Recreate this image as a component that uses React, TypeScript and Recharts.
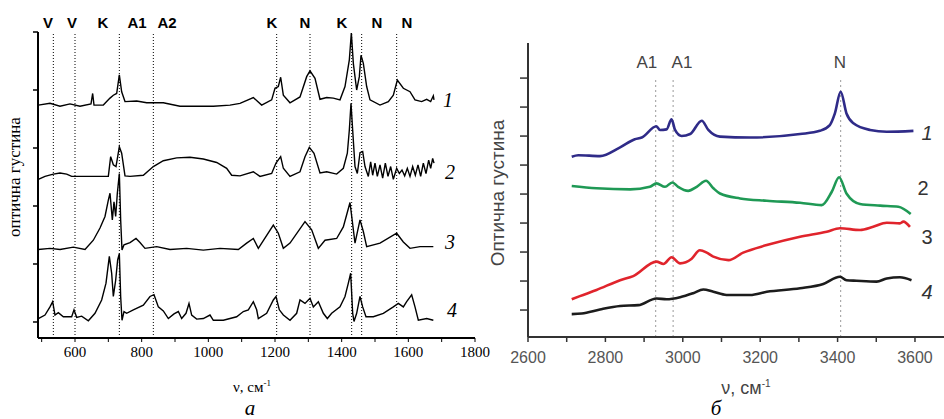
import React from 'react'
import { LineChart, Line, XAxis, YAxis, ReferenceLine, ReferenceDot } from 'recharts'

// panel а: wavenumber (cm-1) and optical density, spectra 1-4 stacked with offsets
const nuA1 = [490, 525, 555, 585, 615, 648, 653, 657, 685, 705, 715, 725, 733, 740, 750, 785, 815, 865, 915, 965, 1015, 1065, 1095, 1135, 1160, 1190, 1200, 1210, 1217, 1225, 1245, 1275, 1295, 1305, 1320, 1335, 1355, 1375, 1395, 1410, 1423, 1429, 1435, 1445, 1453, 1458, 1465, 1475, 1485, 1515, 1540, 1555, 1567, 1585, 1605, 1620, 1640, 1655, 1667, 1675, 1677]
const odA1 = [3.74, 3.77, 3.72, 3.76, 3.72, 3.76, 3.94, 3.74, 3.74, 3.86, 3.91, 3.94, 4.26, 3.97, 3.8, 3.81, 3.78, 3.78, 3.72, 3.72, 3.72, 3.74, 3.77, 3.87, 3.74, 3.83, 4.03, 4.06, 4.22, 3.91, 3.78, 3.88, 4.23, 4.33, 4.2, 3.84, 3.87, 3.86, 3.83, 4.06, 4.52, 4.98, 4.46, 4.0, 4.23, 4.6, 4.46, 4.06, 3.83, 3.74, 3.8, 3.91, 4.17, 4.03, 3.97, 3.83, 3.8, 3.84, 3.8, 3.9, 3.83]

const nuA2 = [490, 510, 535, 555, 575, 590, 625, 700, 707, 715, 723, 733, 740, 750, 765, 805, 835, 865, 905, 945, 985, 1025, 1055, 1070, 1095, 1135, 1155, 1190, 1203, 1217, 1225, 1245, 1275, 1290, 1303, 1317, 1335, 1355, 1385, 1405, 1417, 1423, 1428, 1433, 1440, 1447, 1455, 1463, 1470, 1480, 1487, 1493, 1500, 1507, 1515, 1523, 1531, 1539, 1547, 1555, 1565, 1573, 1581, 1589, 1597, 1605, 1613, 1621, 1629, 1637, 1645, 1653, 1661, 1667, 1673, 1677]
const odA2 = [2.46, 2.51, 2.55, 2.57, 2.55, 2.51, 2.51, 2.51, 2.85, 2.71, 2.68, 3.02, 2.91, 2.52, 2.51, 2.53, 2.68, 2.78, 2.83, 2.84, 2.81, 2.75, 2.65, 2.53, 2.52, 2.59, 2.51, 2.56, 2.74, 2.85, 2.65, 2.51, 2.59, 2.85, 3.01, 2.91, 2.57, 2.59, 2.55, 2.65, 2.91, 3.31, 3.77, 3.31, 2.68, 2.56, 2.92, 2.94, 2.68, 2.51, 2.76, 2.53, 2.74, 2.51, 2.71, 2.48, 2.74, 2.51, 2.68, 2.46, 2.65, 2.56, 2.62, 2.52, 2.65, 2.51, 2.68, 2.53, 2.71, 2.51, 2.74, 2.56, 2.79, 2.65, 2.82, 2.74]

const nuA3 = [490, 525, 555, 595, 630, 655, 675, 690, 700, 705, 712, 717, 722, 727, 733, 737, 741, 747, 765, 783, 795, 810, 845, 885, 935, 985, 1035, 1090, 1115, 1135, 1150, 1195, 1210, 1225, 1245, 1290, 1310, 1330, 1350, 1385, 1405, 1425, 1440, 1455, 1465, 1475, 1515, 1565, 1585, 1605, 1635, 1675]
const odA3 = [1.25, 1.27, 1.25, 1.29, 1.25, 1.41, 1.62, 1.82, 2.1, 2.22, 1.76, 2.07, 1.82, 2.22, 2.56, 1.76, 1.24, 1.33, 1.37, 1.44, 1.37, 1.27, 1.3, 1.25, 1.27, 1.24, 1.27, 1.25, 1.36, 1.44, 1.27, 1.67, 1.53, 1.27, 1.36, 1.73, 1.59, 1.27, 1.41, 1.44, 1.64, 2.06, 1.36, 1.76, 1.56, 1.3, 1.36, 1.53, 1.38, 1.27, 1.3, 1.3]

const nuA4 = [490, 510, 525, 533, 540, 550, 565, 590, 597, 605, 620, 640, 660, 680, 693, 703, 710, 715, 722, 728, 733, 737, 741, 747, 755, 775, 805, 825, 837, 850, 865, 880, 897, 910, 920, 933, 942, 950, 965, 985, 1005, 1015, 1045, 1085, 1105, 1120, 1135, 1145, 1150, 1175, 1195, 1203, 1213, 1225, 1245, 1265, 1275, 1290, 1305, 1315, 1330, 1345, 1357, 1370, 1395, 1410, 1420, 1427, 1433, 1437, 1445, 1455, 1463, 1473, 1495, 1525, 1555, 1570, 1585, 1595, 1610, 1620, 1630, 1655, 1675]
const odA4 = [0.06, 0.12, 0.26, 0.35, 0.12, 0.16, 0.09, 0.09, 0.21, 0.08, 0.1, 0.02, 0.15, 0.38, 0.67, 1.13, 0.84, 0.44, 0.72, 1.07, 1.18, 0.44, 0.03, 0.18, 0.15, 0.21, 0.29, 0.44, 0.47, 0.26, 0.19, 0.06, 0.14, 0.18, 0.06, 0.15, 0.32, 0.12, 0.05, 0.06, 0.12, 0.03, 0.03, 0.09, 0.18, 0.21, 0.35, 0.21, 0.06, 0.15, 0.38, 0.44, 0.21, 0.12, 0.03, 0.15, 0.38, 0.32, 0.41, 0.26, 0.35, 0.15, 0.06, 0.15, 0.26, 0.44, 0.67, 0.84, 0.15, 0.01, 0.15, 0.44, 0.26, 0.09, 0.09, 0.15, 0.26, 0.32, 0.26, 0.35, 0.47, 0.26, 0.03, 0.06, 0.03]

const bandLinesA = [535, 600, 733, 835, 1205, 1305, 1430, 1460, 1565]
const bandNamesA = ['V', 'V', 'K', 'A1', 'A2', 'K', 'N', 'K', 'N', 'N']
const bandNamePosA = [519, 591, 684, 786, 876, 1191, 1290, 1401, 1506, 1596]
const ticksA = [500, 600, 700, 800, 900, 1000, 1100, 1200, 1300, 1400, 1500, 1600, 1700, 1800]

// panel б
const nuB1 = [2713, 2730, 2786, 2838, 2876, 2894, 2932, 2941, 2958, 2971, 2980, 2997, 3019, 3049, 3066, 3096, 3174, 3303, 3354, 3380, 3393, 3408, 3423, 3441, 3484, 3527, 3596]
const odB1 = [6.29, 6.34, 6.31, 6.61, 6.89, 6.95, 7.34, 7.21, 7.23, 7.58, 7.21, 7.0, 7.07, 7.53, 7.21, 6.98, 6.95, 7.07, 7.18, 7.38, 7.78, 8.53, 7.78, 7.44, 7.21, 7.15, 7.18]
const nuB2 = [2713, 2777, 2864, 2915, 2932, 2954, 2973, 2988, 3014, 3036, 3060, 3079, 3096, 3148, 3217, 3303, 3359, 3385, 3404, 3423, 3458, 3510, 3557, 3589]
const odB2 = [5.28, 5.2, 5.16, 5.25, 5.37, 5.25, 5.4, 5.25, 5.11, 5.25, 5.46, 5.2, 5.02, 4.85, 4.77, 4.7, 4.62, 5.08, 5.58, 5.02, 4.66, 4.6, 4.56, 4.31]
const nuB3 = [2713, 2734, 2777, 2838, 2872, 2932, 2950, 2971, 2993, 3023, 3044, 3062, 3079, 3118, 3156, 3217, 3303, 3372, 3406, 3458, 3492, 3527, 3561, 3570, 3587]
const odB3 = [1.37, 1.48, 1.69, 2.03, 2.17, 2.67, 2.59, 2.82, 2.61, 2.77, 3.06, 2.98, 2.84, 2.72, 2.98, 3.24, 3.53, 3.7, 3.82, 3.76, 3.87, 4.01, 3.99, 4.05, 3.87]
const nuB4 = [2713, 2739, 2786, 2838, 2885, 2932, 2958, 2993, 3027, 3053, 3079, 3113, 3174, 3217, 3303, 3363, 3406, 3423, 3449, 3501, 3527, 3561, 3591]
const odB4 = [0.86, 0.88, 1.02, 1.14, 1.17, 1.4, 1.37, 1.44, 1.58, 1.71, 1.63, 1.52, 1.52, 1.63, 1.75, 1.9, 2.15, 2.03, 2.01, 1.98, 2.09, 2.13, 2.03]

const bandLinesB = [2930, 2975, 3408]
const bandNamesB = ['A1', 'A1', 'N']
const bandNamePosB = [2907, 2998, 3406]
const ticksB = [2600, 2700, 2800, 2900, 3000, 3100, 3200, 3300, 3400, 3500, 3600]
const coloursB = ['#2f2b88', '#1f9955', '#e0242c', '#1c1c1c']

const pts = (xs: number[], ys: number[]) => xs.map((x, i) => ({ x, y: ys[i] }))
const blank = () => ''

const serif = '"Liberation Serif", "Times New Roman", serif'
const sans = '"Liberation Sans", Arial, sans-serif'

const abs = (extra: React.CSSProperties): React.CSSProperties => ({ position: 'absolute', whiteSpace: 'nowrap', lineHeight: 1, ...extra })
const supStyle = (size: number): React.CSSProperties => ({ fontSize: size, lineHeight: 0, verticalAlign: 'super' })

export default function App() {
  const seriesA = [pts(nuA1, odA1), pts(nuA2, odA2), pts(nuA3, odA3), pts(nuA4, odA4)]
  const seriesB = [pts(nuB1, odB1), pts(nuB2, odB2), pts(nuB3, odB3), pts(nuB4, odB4)]
  const labA = [
    { n: '1', x: 1719, y: 3.83 },
    { n: '2', x: 1725, y: 2.59 },
    { n: '3', x: 1725, y: 1.38 },
    { n: '4', x: 1731, y: 0.21 },
  ]
  const labB = [
    { n: '1', x: 3631, y: 7.1, it: true },
    { n: '2', x: 3621, y: 5.21, it: false },
    { n: '3', x: 3631, y: 3.52, it: false },
    { n: '4', x: 3631, y: 1.62, it: true },
  ]

  return (
    <div style={{ position: 'absolute', left: 0, top: 0, width: 944, height: 419, background: '#fff', overflow: 'hidden' }}>
      <div style={{ position: 'absolute', left: 0, top: 0 }}>
        <LineChart width={505} height={419} margin={{ top: 32, right: 30, bottom: 51, left: 0 }}>
          <XAxis
            dataKey="x"
            type="number"
            domain={[489, 1800]}
            ticks={ticksA}
            allowDataOverflow
            height={30}
            tickSize={4}
            tickMargin={4}
            interval={0}
            tickFormatter={(v: number) => (v % 200 === 0 ? String(v) : '')}
            tick={{ fontFamily: serif, fontSize: 15, fill: '#000' }}
            axisLine={{ stroke: '#000', strokeWidth: 2 }}
            tickLine={{ stroke: '#000' }}
          />
          <YAxis
            type="number"
            domain={[-0.276, 5]}
            ticks={[0, 1, 2, 3, 4, 5]}
            allowDataOverflow
            width={38}
            tickSize={5}
            tickFormatter={blank}
            axisLine={{ stroke: '#000', strokeWidth: 2 }}
            tickLine={{ stroke: '#000', strokeWidth: 1.5 }}
          />
          {bandLinesA.map((b) => (
            <ReferenceLine key={'l' + b} x={b} stroke="#000" strokeWidth={1} strokeDasharray="1 2" />
          ))}
          {bandNamesA.map((n, i) => (
            <ReferenceLine
              key={'n' + i}
              x={bandNamePosA[i]}
              stroke="none"
              label={{ value: n, position: 'top', offset: 4, fill: '#000', fontSize: 15, fontWeight: 'bold', fontFamily: sans }}
            />
          ))}
          {seriesA.map((d, i) => (
            <Line key={i} data={d} dataKey="y" type="linear" stroke="#000" strokeWidth={1.4} dot={false} isAnimationActive={false} />
          ))}
          {labA.map((l) => (
            <ReferenceDot
              key={'d' + l.n}
              x={l.x}
              y={l.y}
              r={0}
              fill="none"
              stroke="none"
              ifOverflow="visible"
              label={{ value: l.n, position: 'center', fill: '#000', fontSize: 20, fontStyle: 'italic', fontFamily: serif }}
            />
          ))}
        </LineChart>
      </div>

      <div style={{ position: 'absolute', left: 480, top: 0 }}>
        <LineChart width={464} height={419} margin={{ top: 43, right: 0, bottom: 52, left: 0 }}>
          <XAxis
            dataKey="x"
            type="number"
            domain={[2600, 3675]}
            ticks={ticksB}
            allowDataOverflow
            height={30}
            tickSize={5}
            tickMargin={10}
            interval={0}
            tickFormatter={(v: number) => (v % 200 === 0 ? String(v) : '')}
            tick={{ fontFamily: sans, fontSize: 16, fill: '#555' }}
            axisLine={{ stroke: '#333', strokeWidth: 2 }}
            tickLine={{ stroke: '#333', strokeWidth: 1.5 }}
          />
          <YAxis
            type="number"
            domain={[0.07, 10.21]}
            ticks={[1, 2, 3, 4, 5, 6, 7, 8, 9]}
            allowDataOverflow
            width={48}
            tickSize={8}
            tickFormatter={blank}
            axisLine={{ stroke: '#333', strokeWidth: 2 }}
            tickLine={{ stroke: '#333', strokeWidth: 1.5 }}
          />
          {bandLinesB.map((b) => (
            <ReferenceLine
              key={'l' + b}
              segment={[{ x: b, y: 0.07 }, { x: b, y: 9.03 }]}
              stroke="#9a9a9a"
              strokeWidth={1}
              strokeDasharray="2 3"
            />
          ))}
          {bandNamesB.map((n, i) => (
            <ReferenceDot
              key={'n' + i}
              x={bandNamePosB[i]}
              y={9.55}
              r={0}
              fill="none"
              stroke="none"
              label={{ value: n, position: 'center', fill: '#444', fontSize: 17, fontFamily: sans }}
            />
          ))}
          {seriesB.map((d, i) => (
            <Line key={i} data={d} dataKey="y" type="monotone" stroke={coloursB[i]} strokeWidth={2.6} dot={false} isAnimationActive={false} />
          ))}
          {labB.map((l) => (
            <ReferenceDot
              key={'d' + l.n}
              x={l.x}
              y={l.y}
              r={0}
              fill="none"
              stroke="none"
              label={{ value: l.n, position: 'center', fill: '#333', fontSize: 20, fontStyle: l.it ? 'italic' : 'normal', fontFamily: sans }}
            />
          ))}
        </LineChart>
      </div>

      <div style={abs({ left: 14, top: 177, transform: 'translate(-50%, -50%) rotate(-90deg)', fontFamily: serif, fontSize: 17, color: '#000' })}>
        оптична густина
      </div>
      <div style={abs({ left: 497, top: 193, transform: 'translate(-50%, -50%) rotate(-90deg)', fontFamily: sans, fontSize: 19, color: '#444' })}>
        Оптична густина
      </div>

      <div style={abs({ left: 252, top: 380, transform: 'translateX(-50%)', fontFamily: serif, fontSize: 15, color: '#000' })}>
        ν, см<sup style={supStyle(9)}>-1</sup>
      </div>
      <div style={abs({ left: 746, top: 379, transform: 'translateX(-50%)', fontFamily: sans, fontSize: 18, color: '#444' })}>
        ν, см<sup style={supStyle(10)}>-1</sup>
      </div>

      <div style={abs({ left: 250, top: 399, lineHeight: 0.9, transform: 'translateX(-50%)', fontFamily: serif, fontStyle: 'italic', fontSize: 21, color: '#000' })}>
        а
      </div>
      <div style={abs({ left: 716, top: 399, lineHeight: 0.9, transform: 'translateX(-50%)', fontFamily: serif, fontStyle: 'italic', fontSize: 21, color: '#000' })}>
        б
      </div>
    </div>
  )
}
